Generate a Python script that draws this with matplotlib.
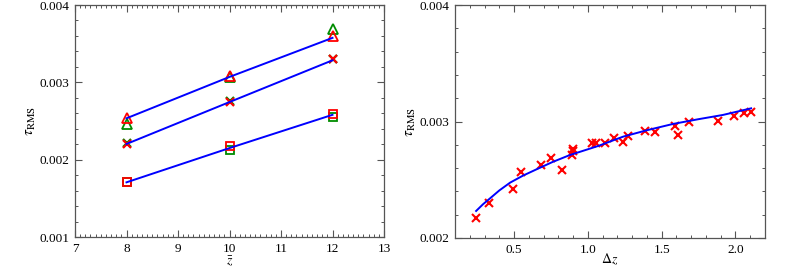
import matplotlib
matplotlib.use("Agg")
import matplotlib.pyplot as plt
from matplotlib.ticker import MultipleLocator, FormatStrFormatter

plt.rcParams['font.family'] = ['Liberation Serif', 'DejaVu Serif']
plt.rcParams['mathtext.fontset'] = 'stix'

# Left panel data
zbar = [8, 10, 12]
tri_red = [0.002535, 0.003082, 0.003599]
tri_green = [0.002461, 0.003075, 0.003685]
x_red = [0.002203, 0.002745, 0.003297]
x_green = [0.002210, 0.002755, 0.003305]
sq_red = [0.001707, 0.002177, 0.002586]
sq_green = [0.001707, 0.002125, 0.002556]
fit_top = [0.002535, 0.003070, 0.003575]
fit_mid = [0.002203, 0.002745, 0.003285]
fit_bot = [0.001707, 0.002150, 0.002580]

# Right panel data
dz = [0.243, 0.329, 0.491, 0.547, 0.682, 0.750, 0.822, 0.892, 0.896, 0.900,
      1.025, 1.054, 1.115, 1.176, 1.239, 1.273, 1.390, 1.453, 1.590, 1.608,
      1.682, 1.881, 1.991, 2.061, 2.108]
tau = [0.002174, 0.002298, 0.002423, 0.002564, 0.002629, 0.002689, 0.002586,
       0.002712, 0.002761, 0.002747, 0.002813, 0.002813, 0.002813, 0.002861,
       0.002821, 0.002876, 0.002916, 0.002910, 0.002959, 0.002884, 0.002993,
       0.003004, 0.003050, 0.003070, 0.003079]
curve_x = [0.243, 0.290, 0.338, 0.400, 0.473, 0.560, 0.653, 0.760, 0.878, 1.070,
           1.239, 1.400, 1.577, 1.750, 1.914, 2.106]
curve_y = [0.002232, 0.002290, 0.002341, 0.002408, 0.002475, 0.002535, 0.002590,
           0.002652, 0.002712, 0.002790, 0.002870, 0.002925, 0.002979, 0.003020,
           0.003056, 0.003113]

W, H = 802, 270
fig = plt.figure(figsize=(W / 100, H / 100), dpi=100)
ax1 = fig.add_axes([75 / W, 1 - 237 / H, (384 - 75) / W, (237 - 5) / H])
ax2 = fig.add_axes([455 / W, 1 - 238 / H, (765 - 455) / W, (238 - 5) / H])

red = '#ff0000'
green = '#008c00'
blue = '#0000ff'

ax1.plot(zbar, tri_green, ls='none', marker='^', ms=6.5, mfc='none', mec=green, mew=1.3)
ax1.plot(zbar, tri_red, ls='none', marker='^', ms=6.5, mfc='none', mec=red, mew=1.3)
ax1.plot(zbar, x_green, ls='none', marker='x', ms=6, mec=green, mew=1.6)
ax1.plot(zbar, x_red, ls='none', marker='x', ms=6, mec=red, mew=1.6)
ax1.plot(zbar, sq_green, ls='none', marker='s', ms=5.5, mfc='none', mec=green, mew=1.3)
ax1.plot(zbar, sq_red, ls='none', marker='s', ms=5.5, mfc='none', mec=red, mew=1.3)
for f in (fit_top, fit_mid, fit_bot):
    ax1.plot(zbar, f, color=blue, lw=1.4, zorder=3)

ax1.set_xlim(7, 13)
ax1.set_ylim(0.001, 0.004)
ax1.xaxis.set_major_locator(MultipleLocator(1))
ax1.xaxis.set_minor_locator(MultipleLocator(0.1))
ax1.yaxis.set_major_locator(MultipleLocator(0.001))
ax1.yaxis.set_minor_locator(MultipleLocator(0.0002))
ax1.yaxis.set_major_formatter(FormatStrFormatter('%.3f'))
ax1.set_xlabel(r'$\bar{z}$', fontsize=10, labelpad=-0.5)
ax1.set_ylabel(r'$\tau_{\rm RMS}$', fontsize=11, labelpad=1)

ax2.plot(dz, tau, ls='none', marker='x', ms=6, mec=red, mew=1.5)
ax2.plot(curve_x, curve_y, color=blue, lw=1.4)
ax2.set_xlim(0.1, 2.2)
ax2.set_ylim(0.002, 0.004)
ax2.xaxis.set_major_locator(MultipleLocator(0.5))
ax2.xaxis.set_minor_locator(MultipleLocator(0.1))
ax2.xaxis.set_major_formatter(FormatStrFormatter('%.1f'))
ax2.yaxis.set_major_locator(MultipleLocator(0.001))
ax2.yaxis.set_minor_locator(MultipleLocator(0.0002))
ax2.yaxis.set_major_formatter(FormatStrFormatter('%.3f'))
ax2.set_xlabel(r'$\Delta z$', fontsize=10, labelpad=-3)
ax2.set_ylabel(r'$\tau_{\rm RMS}$', fontsize=11, labelpad=1)

for ax in (ax1, ax2):
    for s in ax.spines.values():
        s.set_color('#555555')
        s.set_linewidth(0.9)
    ax.tick_params(which='both', direction='in', top=True, right=True,
                   colors='#555555', labelcolor='black', labelsize=9.5)
    ax.tick_params(which='major', length=5, width=0.8, pad=4)
    ax.tick_params(which='minor', length=2.5, width=0.7)

fig.savefig('out.png', dpi=100)
